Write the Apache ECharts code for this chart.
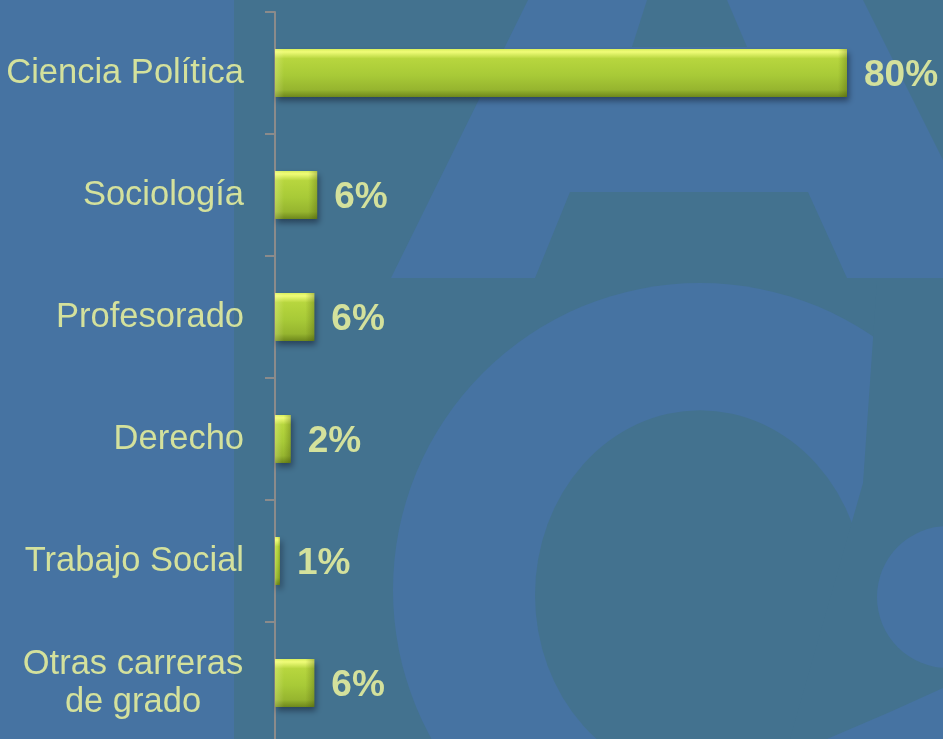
<!DOCTYPE html>
<html>
<head>
<meta charset="utf-8">
<script src="https://cdn.jsdelivr.net/npm/echarts@6/dist/echarts.min.js"></script>
<style>
html,body{margin:0;padding:0;background:#43728f;}
#chart{width:943px;height:739px;}
</style>
</head>
<body>
<div id="chart"></div>
<script>
// ---- data ----
const categories = ['Ciencia Política', 'Sociología', 'Profesorado', 'Derecho', 'Trabajo Social', 'Otras carreras\nde grado'];
const values = [80, 5.9, 5.5, 2.2, 0.7, 5.5];
const valueLabels = ['80%', '6%', '6%', '2%', '1%', '6%'];

// ---- style ----
const BLUE = '#4673a2';
const TEAL = '#43728f';
const TXT = '#d4e19c';
const FONT = '"Liberation Sans", Arial, sans-serif';
const X_MAX = 80;
const GRID_LEFT = 275, GRID_RIGHT = 96;
const PLOT_W = 943 - GRID_LEFT - GRID_RIGHT;

const chart = echarts.init(document.getElementById('chart'), null, {renderer: 'canvas'});

const barGradient = new echarts.graphic.LinearGradient(0, 0, 0, 1, [
  {offset: 0, color: '#d9ef5c'},
  {offset: 0.06, color: '#f0fc78'},
  {offset: 0.2, color: '#b7d63e'},
  {offset: 0.55, color: '#a8ca37'},
  {offset: 0.85, color: '#96b52f'},
  {offset: 1, color: '#6d871c'}
]);

// horizontal bevel overlay (light left edge, dark right edge)
function bevelFor(v) {
  const px = Math.max(1, v / X_MAX * PLOT_W);
  const f = Math.min(0.45, 9 / px);
  return new echarts.graphic.LinearGradient(0, 0, 1, 0, [
    {offset: 0, color: 'rgba(255,255,190,0.25)'},
    {offset: f, color: 'rgba(255,255,190,0.0)'},
    {offset: 1 - f, color: 'rgba(60,70,0,0.0)'},
    {offset: 1, color: 'rgba(50,60,0,0.28)'}
  ]);
}

const bg = [
  {type: 'rect', shape: {x: 0, y: 0, width: 234, height: 739}, style: {fill: BLUE}},
  {type: 'polygon', shape: {points: [[528,0],[863,0],[1002,278],[847,278],[808,192],[570,192],[535,278],[391,278]]}, style: {fill: BLUE}},
  {type: 'polygon', shape: {points: [[647,0],[727,0],[747,47],[632,47]]}, style: {fill: TEAL}},
  {type: 'circle', shape: {cx: 700, cy: 590, r: 307}, style: {fill: BLUE}},
  {type: 'circle', x: 700, y: 595, scaleY: 1.12, shape: {cx: 0, cy: 0, r: 165}, style: {fill: TEAL}},
  {type: 'polygon', shape: {points: [[877,281],[943,281],[943,688],[890,712],[827,739],[790,739],[863,483]]}, style: {fill: TEAL}},
  {type: 'circle', shape: {cx: 948, cy: 597, r: 71}, style: {fill: BLUE}}
].map(e => Object.assign(e, {z: -100, silent: true}));

const option = {
  backgroundColor: TEAL,
  animation: false,
  graphic: {elements: bg},
  grid: {left: GRID_LEFT, right: GRID_RIGHT, top: 12, height: 732, containLabel: false, outerBoundsMode: 'none'},
  xAxis: {
    type: 'value', min: 0, max: X_MAX, show: false
  },
  yAxis: {
    type: 'category',
    data: categories,
    inverse: true,
    axisLine: {show: true, lineStyle: {color: '#8b8b8b', width: 2}},
    axisTick: {show: true, length: 10, lineStyle: {color: '#8b8b8b', width: 2}},
    splitLine: {show: false},
    axisLabel: {
      margin: 31,
      color: TXT,
      fontSize: 34.5,
      fontFamily: FONT,
      formatter: function (v) {
        if (v.indexOf('\n') >= 0) {
          return v.split('\n').map(s => '{c|' + s + '}').join('\n');
        }
        return v;
      },
      rich: {
        c: {width: 222, align: 'center', color: TXT, fontSize: 34.5, fontFamily: FONT, lineHeight: 38}
      }
    }
  },
  series: [{
    type: 'bar',
    data: values,
    barWidth: 48,
    itemStyle: {
      color: barGradient,
      shadowColor: 'rgba(20,30,50,0.55)',
      shadowBlur: 6,
      shadowOffsetX: 2,
      shadowOffsetY: 4
    },
    label: {
      show: true,
      position: 'right',
      distance: 17,
      offset: [0, 3],
      color: TXT,
      fontSize: 37,
      fontWeight: 'bold',
      fontFamily: FONT,
      formatter: p => valueLabels[p.dataIndex]
    }
  }, {
    type: 'bar',
    barGap: '-100%',
    barWidth: 48,
    silent: true,
    data: values.map(v => ({value: v, itemStyle: {color: bevelFor(v)}})),
    label: {show: false}
  }]
};
chart.setOption(option);
</script>
</body>
</html>
